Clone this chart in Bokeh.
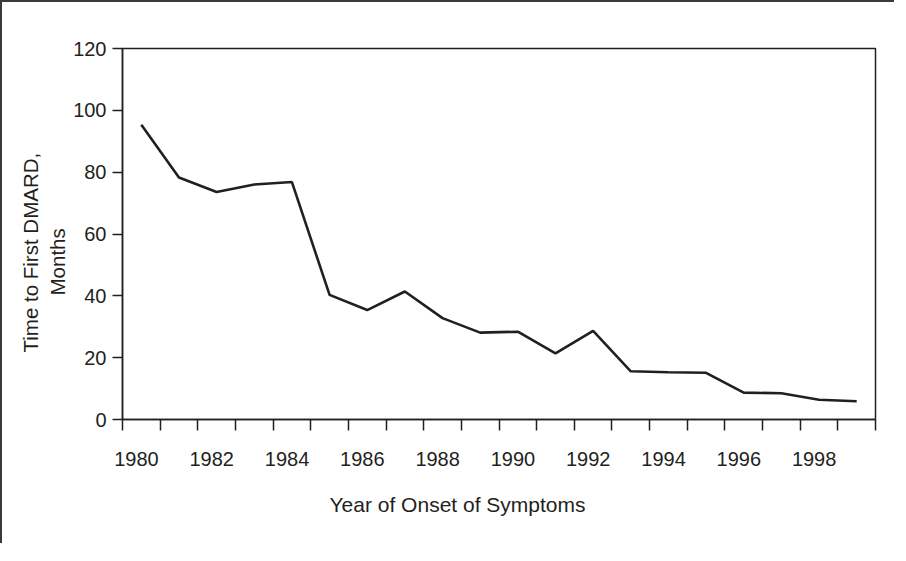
from bokeh.plotting import figure
from bokeh.models import (Range1d, FixedTicker, CustomJSTickFormatter, Title,
                          LinearAxis)
from bokeh.embed import file_html
from bokeh.resources import INLINE

# ---- data ----
onset_year = [1980.5, 1981.5, 1982.5, 1983.5, 1984.5, 1985.5, 1986.5, 1987.5,
              1988.5, 1989.5, 1990.5, 1991.5, 1992.5, 1993.5, 1994.5, 1995.5,
              1996.5, 1997.5, 1998.5, 1999.5]
months_to_dmard = [95.3, 78.3, 73.6, 76.0, 76.8, 40.3, 35.4, 41.4,
                   32.8, 28.1, 28.4, 21.4, 28.7, 15.6, 15.3, 15.1,
                   8.7, 8.5, 6.4, 5.9]

x_tick_years = list(range(1980, 2001))
x_label_years = [1980, 1982, 1984, 1986, 1988, 1990, 1992, 1994, 1996, 1998]
x_tick_labels = [str(y) for y in x_label_years]
y_ticks = [0, 20, 40, 60, 80, 100, 120]

x_title = "Year of Onset of Symptoms"
y_title_lines = ["Time to First DMARD,", "Months"]

INK = "#231f20"
FONT = "Liberation Sans"
FS = "20px"

p = figure(width=894, height=543, output_backend="svg", toolbar_location=None,
           x_range=Range1d(1980, 2000), y_range=Range1d(0, 120),
           x_axis_type=None, y_axis_type=None,
           min_border_left=120, min_border_top=46, min_border_right=21,
           min_border_bottom=126)
p.title = None
p.outline_line_color = INK
p.outline_line_width = 1.5
p.background_fill_color = "white"
p.border_fill_color = "white"
p.styles = {"border-top": "2px solid #3a3a3a", "border-left": "2px solid #3a3a3a"}

# y axis
yaxis = LinearAxis(ticker=FixedTicker(ticks=y_ticks, minor_ticks=[]),
                   major_tick_out=10, major_tick_in=0,
                   minor_tick_out=0, minor_tick_in=0,
                   major_label_standoff=6,
                   major_label_text_font_size=FS,
                   major_label_text_font=FONT,
                   major_label_text_color=INK,
                   axis_line_color=INK, axis_line_width=1.5,
                   major_tick_line_color=INK, major_tick_line_width=1.5)
p.add_layout(yaxis, "left")

# y axis title: two lines, inner line first
p.add_layout(Title(text=y_title_lines[1], align="left", offset=124, standoff=4,
                   text_font=FONT, text_font_size="20.5px",
                   text_font_style="normal", text_color=INK), "left")
p.add_layout(Title(text=y_title_lines[0], align="left", offset=67, standoff=0,
                   text_font=FONT, text_font_size="20.5px",
                   text_font_style="normal", text_color=INK), "left")

# x axis: tick marks every year (as minor ticks), labels every 2 years
label_pos = [y + 0.37 for y in x_label_years]
xaxis = LinearAxis(ticker=FixedTicker(ticks=label_pos, minor_ticks=x_tick_years),
                   formatter=CustomJSTickFormatter(args=dict(labels=x_tick_labels),
                                                   code="return labels[index];"),
                   major_tick_out=0, major_tick_in=0,
                   minor_tick_out=11, minor_tick_in=0,
                   major_label_standoff=21,
                   major_label_text_font_size=FS,
                   major_label_text_font=FONT,
                   major_label_text_color=INK,
                   axis_line_color=INK, axis_line_width=1.5,
                   minor_tick_line_color=INK, minor_tick_line_width=1.5)
p.add_layout(xaxis, "below")

p.add_layout(Title(text=x_title, align="left", offset=207, standoff=49,
                   vertical_align="top",
                   text_font=FONT, text_font_size="21px",
                   text_font_style="normal", text_color=INK), "below")

p.line(onset_year, months_to_dmard, line_width=2.6, line_color=INK)

open("out.html", "w").write(file_html(p, INLINE))
